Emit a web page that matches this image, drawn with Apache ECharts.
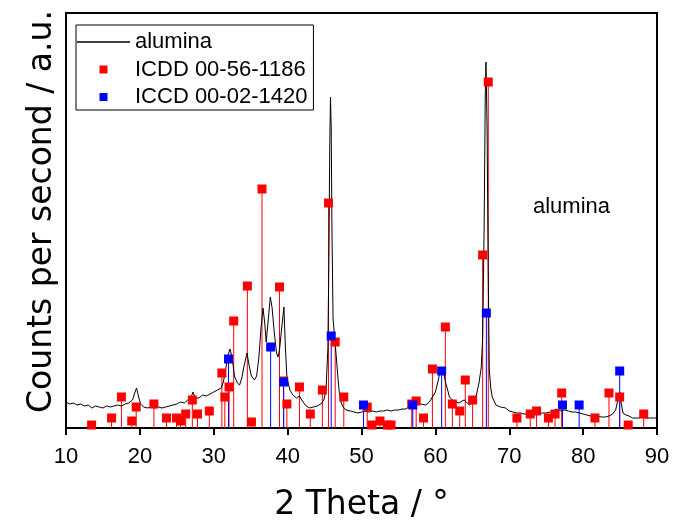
<!DOCTYPE html>
<html>
<head>
<meta charset="utf-8">
<script src="https://cdn.jsdelivr.net/npm/echarts@6/dist/echarts.min.js"></script>
<style>html,body{margin:0;padding:0;background:#fff;}#c{width:674px;height:521px;}</style>
</head>
<body>
<div id="c"></div>
<script>
// measured XRD pattern (2θ in degrees, intensity in a.u.)
const twoTheta = [10.0,10.5,11.0,11.5,12.0,12.5,13.0,13.5,14.0,14.5,15.0,15.5,16.0,16.5,17.0,17.5,18.0,18.5,19.0,19.3,19.55,19.8,20.1,20.5,21.0,21.5,22.0,22.5,23.0,23.5,24.0,24.5,25.0,25.5,26.0,26.5,27.0,27.2,27.5,28.0,28.5,29.0,29.5,30.0,30.5,31.0,31.3,31.6,31.9,32.2,32.5,32.8,33.2,33.5,33.8,34.1,34.5,34.8,35.1,35.5,35.8,36.1,36.4,36.67,36.9,37.1,37.4,37.66,37.9,38.2,38.5,38.7,38.9,39.2,39.5,39.7,39.9,40.3,40.7,41.2,41.6,42.0,42.5,43.0,43.5,44.0,44.5,44.9,45.2,45.45,45.6,45.7,45.8,45.9,46.0,46.15,46.35,46.6,46.8,47.0,47.25,47.6,47.9,48.5,49.0,49.5,50.0,50.5,51.0,51.5,52.0,52.5,53.0,53.5,54.0,54.5,55.0,55.5,56.0,56.5,57.0,57.2,57.5,58.0,58.7,59.2,59.6,60.0,60.3,60.6,60.85,61.1,61.4,61.7,61.9,62.3,62.8,63.2,63.6,63.9,64.2,64.6,65.0,65.5,65.9,66.2,66.4,66.6,66.75,66.85,67.0,67.15,67.3,67.5,67.7,68.2,68.8,69.5,70.0,70.5,71.0,71.5,72.0,72.5,73.0,73.5,74.0,74.5,75.0,75.5,76.0,76.3,76.6,77.0,77.5,78.0,78.5,79.0,79.5,80.0,80.5,81.0,81.5,82.0,82.5,83.0,83.5,84.0,84.4,84.7,84.95,85.15,85.4,85.8,86.2,86.7,87.5,88.0,88.5,89.0,89.5,90.0];
const alumina = [26,24,25,23,24,22,23,20,22,21,20,22,21,22,23,22,24,25,28,35,40,32,24,21,20,21,20,21,20,21,22,23,24,26,25,28,32,36,30,30,33,32,34,36,38,40,46,58,72,79,70,52,45,43,50,62,75,62,52,48,52,70,100,120,105,86,110,131,120,95,75,71,78,100,121,80,51,38,33,30,32,27,22,20,21,22,24,28,38,80,180,280,331,300,200,110,91,70,51,35,25,20,18,17,16,15,16,17,16,17,16,17,17,18,17,18,18,19,19,22,28,31,27,24,23,26,31,36,45,55,60,56,45,37,31,28,26,25,27,28,26,23,25,31,45,60,90,200,330,366,300,160,58,40,31,23,21,20,17,16,15,15,14,14,14,15,14,15,15,16,16,19,18,17,18,17,16,16,15,14,13,12,12,12,11,11,12,14,18,28,36,25,15,13,12,10,10,11,10,10,10,10];
// reference pattern ICDD 00-56-1186 (position, relative intensity)
const icddPos = [13.47,16.17,17.5,18.9,19.5,21.9,23.6,24.96,25.5,26.2,27.1,27.8,29.4,31.1,31.5,32.07,32.7,34.55,35.1,36.53,38.9,39.46,39.9,41.6,43.07,44.7,45.54,46.44,47.6,50.77,51.4,52.5,53.5,54.0,56.8,57.4,58.4,59.6,61.35,62.3,63.3,64.05,65.04,66.4,67.16,71.04,72.84,73.7,75.3,76.2,77.1,81.6,83.5,84.95,86.1,88.2];
const icddInt = [3,10,31,7,21,24,10,10,7,14,28,14,17,55,31,41,107,142,6,239,141,47,24,41,14,38,225,86,31,21,3,7,3,3,24,27,10,59,101,24,17,48,28,173,346,10,14,17,10,14,35,10,35,31,3,14];
// reference pattern ICCD 00-02-1420
const iccdPos = [32.0,37.7,39.46,45.9,50.27,56.94,60.85,66.9,77.2,79.46,84.95];
const iccdInt = [69,81,46,92,23,23,57,115,23,23,57];

const lineData = twoTheta.map((x, i) => [x, alumina[i]]);
const redData = icddPos.map((x, i) => [x, icddInt[i]]);
const blueData = iccdPos.map((x, i) => [x, iccdInt[i]]);

function stickRenderer(color) {
  return function (params, api) {
    const p0 = api.coord([api.value(0), 0]);
    const p1 = api.coord([api.value(0), api.value(1)]);
    return {
      type: 'line',
      shape: { x1: p0[0], y1: p0[1], x2: p1[0], y2: p1[1] },
      style: { stroke: color, lineWidth: 1 }
    };
  };
}

const SQUARE = 'path://M0,0H10V10H0Z';
const chart = echarts.init(document.getElementById('c'), null, { renderer: 'canvas' });
chart.setOption({
  animation: false,
  backgroundColor: '#fff',
  grid: { left: 66, right: 17, top: 13, bottom: 93, outerBoundsMode: 'none', containLabel: false,
    show: true, borderColor: '#000', borderWidth: 2, backgroundColor: 'transparent' },
  legend: {
    left: 76, top: 25, orient: 'vertical',
    data: [
      { name: 'alumina', icon: 'path://M0,0H53V1.3H0Z' },
      { name: 'ICDD 00-56-1186' },
      { name: 'ICCD 00-02-1420' }
    ],
    itemWidth: 53, itemHeight: 8, itemGap: 5.5,
    padding: [6, 6, 2, 1],
    borderColor: '#000', borderWidth: 1,
    selectedMode: false,
    textStyle: { fontFamily: 'Liberation Sans, Arial, sans-serif', fontSize: 22, lineHeight: 22, color: '#000' }
  },
  xAxis: {
    type: 'value', min: 10, max: 90, interval: 10,
    name: '2 Theta / °', nameLocation: 'middle', nameGap: 59,
    nameTextStyle: { fontFamily: 'DejaVu Sans, sans-serif', fontSize: 33, lineHeight: 36, color: '#000' },
    axisLine: { show: true, lineStyle: { color: '#000', width: 2 } },
    axisTick: { show: true, inside: false, length: 7, lineStyle: { color: '#000', width: 2 } },
    axisLabel: { fontFamily: 'Liberation Sans, Arial, sans-serif', fontSize: 22, lineHeight: 22, color: '#000', margin: 18 },
    splitLine: { show: false }
  },
  yAxis: {
    type: 'value', min: 0, max: 415,
    name: 'Counts per second / a.u.', nameLocation: 'middle', nameGap: 7,
    nameTextStyle: { fontFamily: 'DejaVu Sans, sans-serif', fontSize: 33, lineHeight: 33, color: '#000', padding: [0, 0, 0, 18] },
    axisLine: { show: true, lineStyle: { color: '#000', width: 2 } },
    axisTick: { show: false },
    axisLabel: { show: false },
    splitLine: { show: false }
  },
  graphic: [{
    type: 'text', left: 533, top: 196, z: 10,
    style: { text: 'alumina', fontFamily: 'Liberation Sans, Arial, sans-serif', fontSize: 22, fill: '#000' }
  }],
  series: [
    { name: 'icdd-sticks', type: 'custom', renderItem: stickRenderer('#ff0000'), data: redData, z: 2, silent: true },
    { name: 'iccd-sticks', type: 'custom', renderItem: stickRenderer('#0000ff'), data: blueData, z: 2, silent: true },
    { name: 'alumina', type: 'line', data: lineData, showSymbol: false, symbol: 'none', z: 3, silent: true,
      lineStyle: { color: '#000', width: 1 }, itemStyle: { color: '#000' } },
    { name: 'ICDD 00-56-1186', type: 'scatter', data: redData, symbol: SQUARE, symbolSize: 9, z: 4, silent: true,
      itemStyle: { color: '#ff0000', opacity: 1 } },
    { name: 'ICCD 00-02-1420', type: 'scatter', data: blueData, symbol: SQUARE, symbolSize: 9, z: 5, silent: true,
      itemStyle: { color: '#0000ff', opacity: 1 } }
  ]
});
</script>
</body>
</html>
